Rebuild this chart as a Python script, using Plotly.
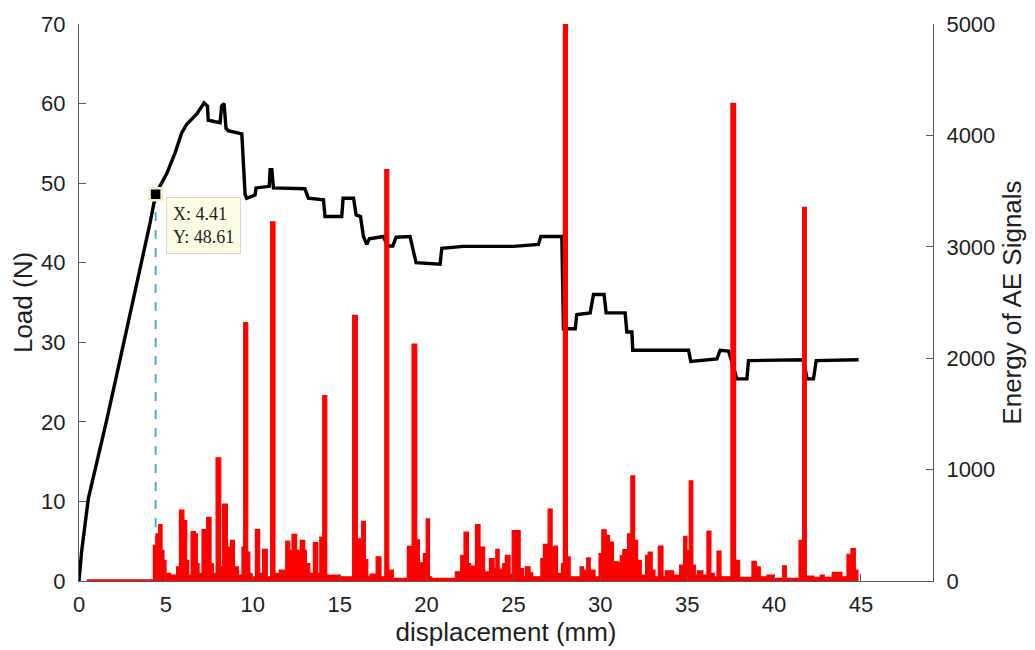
import plotly.graph_objects as go

# Load vs displacement (black curve)
load_x = [0, 0.15, 0.54, 1.11, 1.59, 2.17, 2.74, 3.32, 3.70, 4.09, 4.41, 5.05, 5.53, 5.91,
          6.20, 6.78, 7.20, 7.39, 7.44, 8.12, 8.21, 8.35, 8.46, 8.58, 9.37, 9.56, 9.65,
          10.13, 10.19, 10.80, 10.95, 11.00, 11.10, 11.19, 12.72, 13.00, 13.20, 14.07,
          14.16, 15.12, 15.20, 15.80, 15.95, 16.20, 16.37, 16.56, 16.71, 17.52, 17.75,
          18.06, 18.25, 19.05, 19.40, 20.78, 20.88, 22.12, 25.00, 26.44, 26.58, 27.79,
          27.88, 28.56, 28.65, 29.42, 29.61, 30.22, 30.34, 31.43, 31.53, 31.82, 31.87,
          35.08, 35.21, 36.71, 36.90, 37.38, 37.58, 37.86, 38.44, 38.53, 41.70, 41.90,
          42.27, 42.43, 44.87]
load_y = [0, 3.7, 10.4, 15.6, 20.2, 25.9, 31.6, 37.2, 41.4, 45.0, 48.61, 51.2, 53.8, 56.3,
          57.4, 58.7, 60.1, 59.7, 57.9, 57.6, 59.7, 60.0, 56.9, 56.6, 56.2, 48.6, 48.1,
          48.5, 49.4, 49.5, 49.6, 51.7, 51.7, 49.4, 49.3, 49.3, 48.1, 47.9,
          45.8, 45.8, 48.1, 48.1, 46.0, 45.8, 43.3, 42.3, 43.0, 43.3, 42.1,
          42.1, 43.2, 43.3, 40.0, 39.8, 41.8, 42.05, 42.05, 42.3, 43.3, 43.3,
          31.7, 31.7, 33.5, 33.7, 36.0, 36.0, 33.7, 33.7, 31.3, 31.3, 29.0,
          29.0, 27.6, 27.9, 29.0, 28.9, 27.5, 25.4, 25.4, 27.7, 27.8, 25.4,
          25.4, 27.7, 27.8]

# AE energy (red), value holds from each x to the next
ae_x = [0.45, 4.18, 4.28, 4.43, 4.59, 4.78, 4.89, 5.01, 5.28, 5.62, 5.78, 6.04, 6.20, 6.31,
        6.45, 6.70, 6.81, 6.91, 7.08, 7.35, 7.60, 7.73, 7.89, 8.16, 8.27, 8.54, 8.72, 8.95,
        9.17, 9.38, 9.48, 9.71, 9.83, 9.94, 10.15, 10.40, 10.57, 10.84, 11.03, 11.28, 11.53,
        11.90, 12.13, 12.26, 12.53, 12.74, 12.99, 13.09, 13.28, 13.49, 13.74, 13.86, 14.03,
        14.26, 15.03, 15.75, 16.02, 16.27, 16.48, 16.62, 16.75, 17.10, 17.38, 17.60, 17.83,
        18.09, 18.90, 19.17, 19.44, 19.59, 19.82, 19.98, 20.17, 20.30, 21.66, 21.97, 22.16,
        22.41, 22.55, 22.82, 23.08, 23.35, 23.62, 23.89, 23.99, 24.18, 24.39, 24.54, 24.81,
        24.93, 25.39, 25.58, 25.69, 25.96, 26.12, 26.58, 26.73, 27.00, 27.23, 27.34, 27.54,
        27.77, 27.88, 28.11, 28.27, 28.84, 29.03, 29.22, 29.42, 29.70, 29.93, 30.09, 30.34,
        30.53, 30.76, 31.05, 31.15, 31.30, 31.57, 31.76, 31.98, 32.15, 32.36, 32.61, 32.76,
        32.99, 33.15, 33.34, 33.61, 33.74, 34.22, 34.57, 34.80, 34.99, 35.12, 35.33, 35.47,
        35.60, 35.91, 36.14, 36.37, 36.56, 36.72, 36.95, 37.52, 37.79, 38.02, 38.73, 38.98,
        39.21, 39.59, 39.98, 40.50, 40.71, 41.44, 41.65, 41.86, 42.28, 42.66, 42.89, 43.35,
        43.91, 44.20, 44.43, 44.68, 44.83]
ae_e = [10, 8, 320, 424, 507, 275, 186, 68, 53, 127, 637, 542, 186, 53,
        444, 424, 157, 68, 462, 572, 157, 68, 1106, 127, 691, 305, 364, 127,
        53, 305, 2320, 260, 68, 38, 462, 68, 284, 38, 3225, 68, 97,
        358, 275, 418, 275, 364, 275, 157, 68, 344, 68, 394, 1664,
        53, 38, 2384, 379, 536, 192, 38, 62, 216, 38, 3692, 97,
        23, 311, 2126, 370, 163, 246, 557, 38, 23, 83, 231, 438,
        157, 133, 507, 305, 83, 201, 112, 284, 106, 157, 231, 62,
        453, 112, 38, 127, 74, 38, 201, 329, 646, 305, 314, 68,
        157, 5000, 216, 38, 127, 97, 207, 97, 38, 246, 459, 409,
        349, 172, 163, 225, 281, 424, 943, 364, 186, 53, 231, 260,
        97, 38, 314, 38, 91, 53, 142, 400, 275, 898, 142, 53,
        91, 53, 447, 68, 38, 269, 38, 4288, 186, 32, 177, 127,
        38, 53, 23, 136, 23, 364, 3354, 44, 32, 53, 32, 77,
        38, 240, 290, 97, 0]

# Data tip
tip_x = [4.41]
tip_y = [48.61]

FONT = "Liberation Sans, Arial, sans-serif"
AXC = "#5a5a5a"
TXT = "#1e1e1e"

fig = go.Figure()

fig.add_trace(go.Scatter(x=[tip_x[0], tip_x[0]], y=[0, tip_y[0]], mode="lines",
                         line=dict(color="#4aaed0", width=2, dash="dash"),
                         showlegend=False, hoverinfo="skip"))
fig.add_trace(go.Scatter(x=load_x, y=load_y, mode="lines",
                         line=dict(color="black", width=3.4), showlegend=False))
fig.add_trace(go.Scatter(x=tip_x, y=tip_y, mode="markers",
                         marker=dict(symbol="square", size=12, color="black",
                                     line=dict(color="#f3f2c4", width=2.5)),
                         showlegend=False))
fig.add_trace(go.Scatter(x=ae_x, y=ae_e, mode="lines", yaxis="y2",
                         line=dict(color="#ff0000", width=1.2, shape="hv"),
                         fill="tozeroy", fillcolor="#ff0000", showlegend=False))

fig.add_annotation(x=tip_x[0], y=tip_y[0], xref="x", yref="y",
                   text="X: 4.41<br>Y: 48.61", showarrow=False,
                   xanchor="left", yanchor="top", xshift=10, yshift=-3, align="left",
                   font=dict(family="Liberation Serif, Times New Roman, serif", size=18, color="#222"),
                   bgcolor="#fdfde6", bordercolor="#d8d8c8", borderwidth=1, borderpad=6)

fig.update_layout(
    width=1035, height=650,
    margin=dict(l=79, r=102, t=19, b=69),
    paper_bgcolor="white", plot_bgcolor="white",
    font=dict(family=FONT, size=22, color=TXT),
    showlegend=False,
    xaxis=dict(range=[0, 49.15], tickvals=[0, 5, 10, 15, 20, 25, 30, 35, 40, 45],
               showgrid=False, zeroline=False, showline=True, linecolor=AXC, linewidth=1,
               ticks="inside", ticklen=7, tickcolor=AXC, ticklabelstandoff=4,
               title=dict(text="displacement (mm)", standoff=1)),
    yaxis=dict(range=[0, 70], dtick=10, showgrid=False, zeroline=False, showline=True,
               linecolor=AXC, linewidth=1, ticks="inside", ticklen=7, tickcolor=AXC,
               ticklabelstandoff=8,
               title=dict(text="Load (N)", standoff=1)),
    yaxis2=dict(range=[0, 5000], dtick=1000, overlaying="y", side="right",
                showgrid=False, zeroline=False, showline=True, linecolor=AXC, linewidth=1,
                ticks="inside", ticklen=7, tickcolor=AXC, ticklabelstandoff=8,
                title=dict(text="Energy of AE Signals", standoff=8)),
)

fig.write_html("out.html")
